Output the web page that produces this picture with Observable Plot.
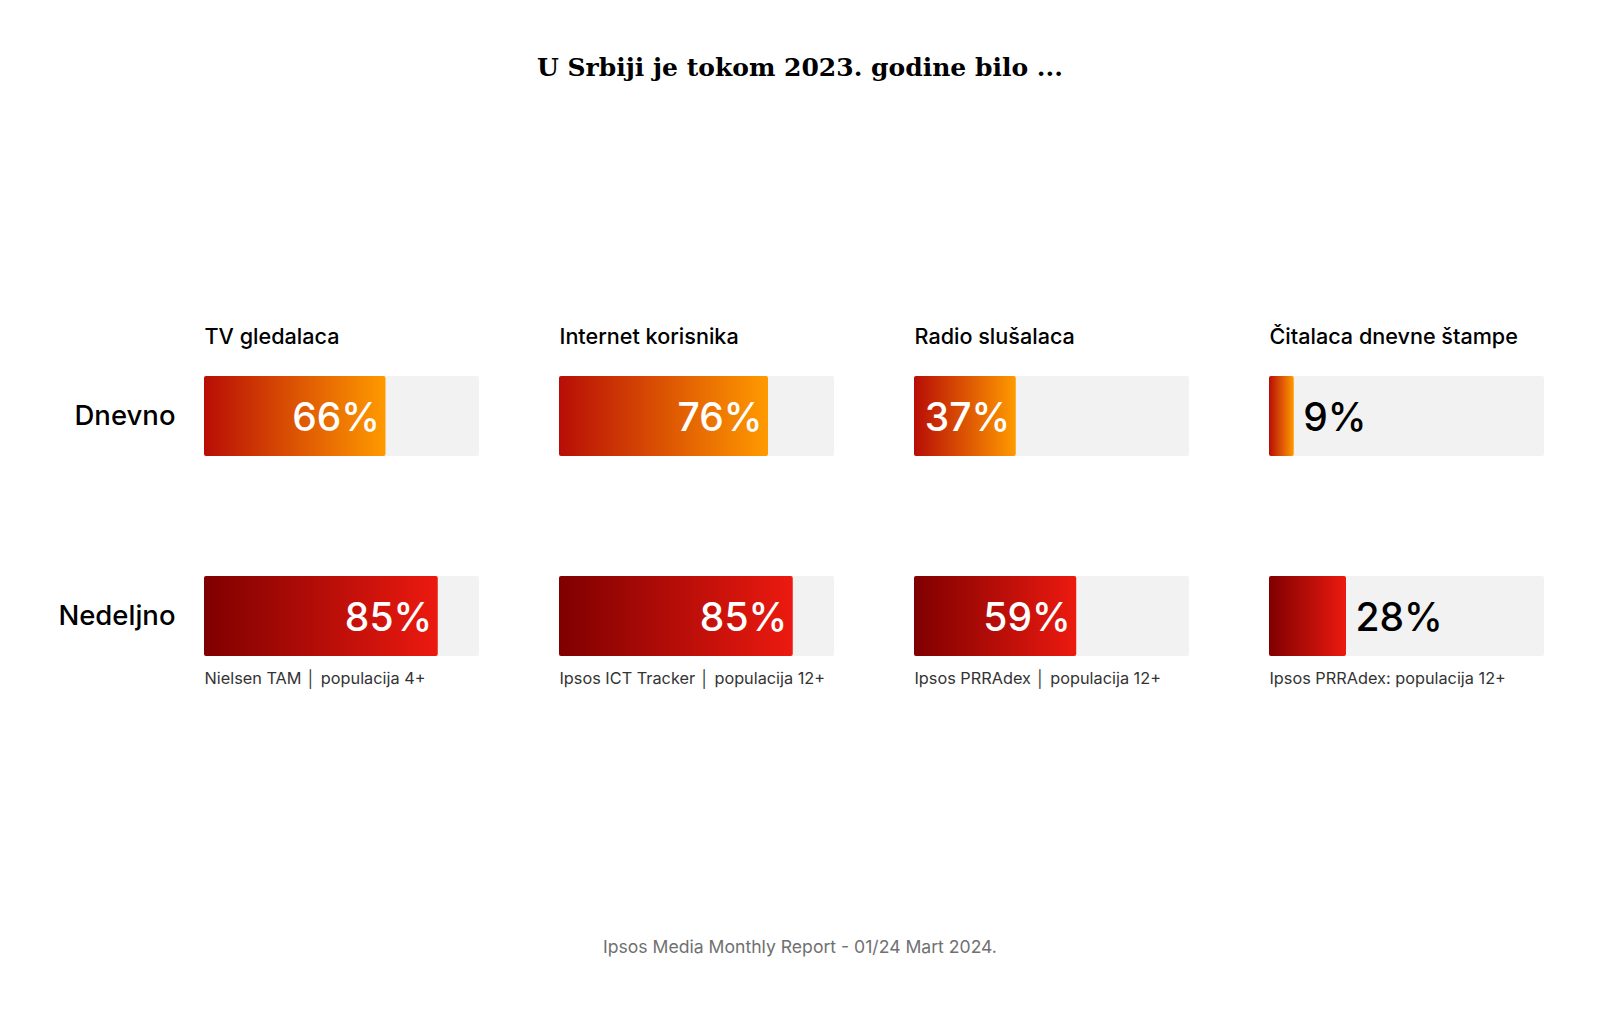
<!DOCTYPE html>
<html>
<head>
<meta charset="utf-8">
<script src="https://cdn.jsdelivr.net/npm/d3@7"></script>
<script src="https://cdn.jsdelivr.net/npm/@observablehq/plot@0.6"></script>
<style>
  html, body { margin: 0; padding: 0; background: #fff; }
  #title { height: 120px; box-sizing: border-box; padding-top: 48px; line-height: 40px; text-align: center;
           font-family: "DejaVu Serif", serif; font-weight: bold; font-size: 25px; color: #000; }
  #footer { text-align: center; padding-top: 75px; line-height: 24px; font-family: Inter, sans-serif;
            font-size: 17.6px; color: #707070; }
  #chart svg { display: block; }
</style>
</head>
<body>
<div id="title">U Srbiji je tokom 2023. godine bilo ...</div>
<div id="chart"></div>
<div id="footer">Ipsos Media Monthly Report - 01/24 Mart 2024.</div>
<script>
const media = ["TV gledalaca", "Internet korisnika", "Radio slušalaca", "Čitalaca dnevne štampe"];
const periods = ["Dnevno", "Nedeljno"];
const dailyValues = [66, 76, 37, 9];
const weeklyValues = [85, 85, 59, 28];
const sources = ["Nielsen TAM │ populacija 4+", "Ipsos ICT Tracker │ populacija 12+", "Ipsos PRRAdex │ populacija 12+", "Ipsos PRRAdex: populacija 12+"];

const rows = [];
media.forEach((m, i) => {
  rows.push({medium: m, period: periods[0], value: dailyValues[i]});
  rows.push({medium: m, period: periods[1], value: weeklyValues[i]});
});
const headers = media.map((m) => ({medium: m, period: periods[0]}));
const sourceRows = media.map((m, i) => ({medium: m, period: periods[1], text: sources[i]}));
const inside = rows.filter((d) => d.value >= 30);
const outside = rows.filter((d) => d.value < 30);

const plot = Plot.plot({
  width: 1600,
  height: 740,
  marginLeft: 204,
  marginRight: 56,
  marginTop: 196,
  marginBottom: 144,
  style: {fontFamily: "Inter, sans-serif", background: "#fff"},
  fx: {domain: media, paddingInner: 0.2257, paddingOuter: 0, axis: null},
  x: {domain: [0, 100], axis: null},
  y: {domain: periods, paddingInner: 0.6, paddingOuter: 0.3, axis: null},
  marks: [
    Plot.barX(rows, {fx: "medium", y: "period", x1: 0, x2: 100, fill: "#f2f2f2", rx: 2}),
    Plot.barX(rows.filter((d) => d.period === periods[0]), {fx: "medium", y: "period", x1: 0, x2: "value", fill: "url(#gradDaily)", rx: 2}),
    Plot.barX(rows.filter((d) => d.period === periods[1]), {fx: "medium", y: "period", x1: 0, x2: "value", fill: "url(#gradWeekly)", rx: 2}),
    Plot.text(inside, {fx: "medium", y: "period", x: "value", text: (d) => d.value + "%", textAnchor: "end", dx: -6, dy: 2, fill: "#fff", fontSize: 39, fontWeight: 500, letterSpacing: -0.5}),
    Plot.text(outside, {fx: "medium", y: "period", x: "value", text: (d) => d.value + "%", textAnchor: "start", dx: 9, dy: 2, fill: "#000", fontSize: 39, fontWeight: 500, letterSpacing: -0.5}),
    Plot.text(headers, {fx: "medium", y: "period", x: 0, text: "medium", textAnchor: "start", dy: -79, fill: "#000", fontSize: 21.6, fontWeight: 500}),
    Plot.text(sourceRows, {fx: "medium", y: "period", x: 0, text: "text", textAnchor: "start", dy: 62, fill: "#333", fontSize: 16.3}),
    Plot.axisY({tickSize: 0, tickPadding: 29, fontSize: 27.5, fontWeight: 500, fill: "#000", label: null})
  ]
});

const svg = d3.select(plot);
const defs = svg.insert("defs", ":first-child");
const gd = defs.append("linearGradient").attr("id", "gradDaily").attr("x1", 0).attr("x2", 1).attr("y1", 0).attr("y2", 0);
gd.append("stop").attr("offset", "0%").attr("stop-color", "#b80d06");
gd.append("stop").attr("offset", "100%").attr("stop-color", "#ff9a00");
const gw = defs.append("linearGradient").attr("id", "gradWeekly").attr("x1", 0).attr("x2", 1).attr("y1", 0).attr("y2", 0);
gw.append("stop").attr("offset", "0%").attr("stop-color", "#7f0000");
gw.append("stop").attr("offset", "100%").attr("stop-color", "#ec1a10");

document.getElementById("chart").appendChild(plot);
</script>
</body>
</html>
